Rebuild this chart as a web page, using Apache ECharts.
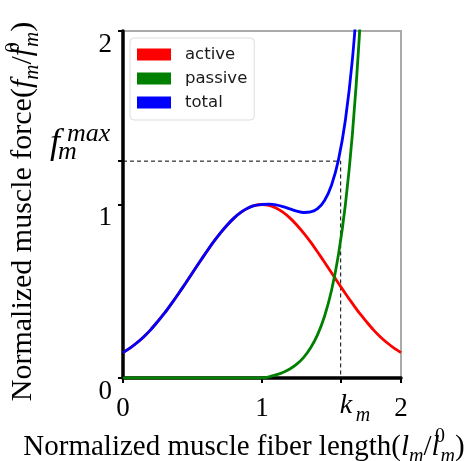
<!DOCTYPE html>
<html>
<head>
<meta charset="utf-8">
<script src="https://cdn.jsdelivr.net/npm/echarts@6/dist/echarts.min.js"></script>
<style>
html,body{margin:0;padding:0;background:#fff;}
#chart{width:470px;height:461px;}
</style>
</head>
<body>
<div id="chart"></div>
<script>
// ---- data ----
const fiberLength = [0,0.05,0.1,0.15,0.2,0.25,0.3,0.35,0.4,0.45,0.5,0.55,0.6,0.65,0.7,0.75,0.8,0.85,0.9,0.95,
  1,1.05,1.1,1.15,1.2,1.25,1.3,1.35,1.4,1.45,1.5,1.55,1.6,1.65,1.7,1.75,1.8,1.85,1.9,1.95,2];
const activeForce = [0.146,0.172,0.203,0.238,0.279,0.326,0.375,0.430,0.487,0.546,0.607,0.667,0.726,0.783,0.835,0.882,0.923,0.956,0.980,0.995,
  1.000,0.995,0.980,0.956,0.923,0.882,0.835,0.783,0.726,0.667,0.607,0.546,0.487,0.430,0.375,0.326,0.279,0.238,0.203,0.172,0.146];
const passiveLength = [0,0.5,1,1.05,1.1,1.15,1.2,1.25,1.3,1.35,1.4,1.45,1.5,1.55,1.6,1.65,1.7,1.75];
const passiveForce = [0,0,0,0.007,0.018,0.032,0.052,0.080,0.119,0.174,0.250,0.356,0.504,0.711,1.000,1.403,1.965,2.750];
const totalLength = [0,0.05,0.1,0.15,0.2,0.25,0.3,0.35,0.4,0.45,0.5,0.55,0.6,0.65,0.7,0.75,0.8,0.85,0.9,0.95,
  1,1.05,1.1,1.15,1.2,1.25,1.3,1.35,1.4,1.45,1.5,1.55,1.6,1.65,1.7];
const totalForce = [0.146,0.172,0.203,0.238,0.279,0.326,0.375,0.430,0.487,0.546,0.607,0.667,0.726,0.783,0.835,0.882,0.923,0.956,0.980,0.995,
  1.000,1.002,0.998,0.988,0.975,0.962,0.954,0.957,0.976,1.023,1.111,1.257,1.487,1.833,2.340];
const kmValue = 1.566;
const fmaxValue = 1.25;
const xTickLabels = [0, 1, 2];
const yTickLabels = [0, 1, 2];
const seriesNames = ['active', 'passive', 'total'];
const seriesColors = ['#ff0000', '#008000', '#0000ff'];

function pairs(xs, ys) { return xs.map((x, i) => [x, ys[i]]); }

const SERIF = '"Liberation Serif", "DejaVu Serif", serif';
function mathRich(size) {
  const s = Math.round(size * 0.69);
  return {
    n: {fontFamily: SERIF, fontSize: size, color: '#000', lineHeight: 40},
    i: {fontFamily: SERIF, fontStyle: 'italic', fontSize: size, color: '#000', lineHeight: 40},
    sub: {fontFamily: SERIF, fontStyle: 'italic', fontSize: s, color: '#000', lineHeight: 24, verticalAlign: 'bottom'},
    sup: {fontFamily: SERIF, fontSize: s, color: '#000', lineHeight: 32, verticalAlign: 'top', width: 1}
  };
}

const chart = echarts.init(document.getElementById('chart'), null, {renderer: 'canvas'});
const option = {
  animation: false,
  backgroundColor: '#fff',
  grid: {left: 123, right: 69, top: 31, bottom: 83, containLabel: false, outerBoundsMode: 'none',
         show: true, borderColor: '#aaaaaa', borderWidth: 2, backgroundColor: 'transparent'},
  legend: {
    data: seriesNames,
    orient: 'vertical',
    left: 130, top: 38,
    padding: [8, 7, 9, 7],
    itemWidth: 34, itemHeight: 12, itemGap: 7,
    icon: 'rect',
    backgroundColor: '#fff',
    borderColor: '#dddddd', borderWidth: 1, borderRadius: 4,
    textStyle: {fontFamily: '"DejaVu Sans", sans-serif', fontSize: 16.5, color: '#1a1a1a', padding: [0, 0, 0, 9]}
  },
  xAxis: {
    type: 'value', min: 0, max: 2, interval: 1,
    splitLine: {show: false},
    axisLine: {show: true, onZero: false, lineStyle: {color: '#000', width: 3.5}},
    axisTick: {show: true, length: 5, lineStyle: {color: '#000', width: 2}, customValues: [0, 1, kmValue, 2]},
    axisLabel: {customValues: xTickLabels, fontFamily: SERIF, fontSize: 27, color: '#000', margin: 17},
    name: '{n|Normalized muscle fiber length(}{i|l}{sub|m}{n|/}{i|l}{sup|0}{sub|m}{n|)}',
    nameLocation: 'middle', nameGap: 36,
    nameTextStyle: {rich: mathRich(29), padding: [0, 36, 0, 0]}
  },
  yAxis: {
    type: 'value', min: 0, max: 2, interval: 1,
    splitLine: {show: false},
    axisLine: {show: true, onZero: false, lineStyle: {color: '#000', width: 3.5}},
    axisTick: {show: true, length: 5, lineStyle: {color: '#000', width: 2}, customValues: [0, 1, fmaxValue, 2]},
    axisLabel: {customValues: yTickLabels, fontFamily: SERIF, fontSize: 27, color: '#000', margin: 11, verticalAlign: 'top'},
    name: '{n|Normalized muscle force(}{i|f}{sub|m}{n|/}{i|f}{sup|0}{sub|m}{n|)}',
    nameLocation: 'middle', nameGap: 80, nameRotate: 90,
    nameTextStyle: {rich: mathRich(30), padding: [0, 14, 0, 0]}
  },
  series: [
    {name: seriesNames[0], type: 'line', data: pairs(fiberLength, activeForce), smooth: 0.3, symbol: 'none', clip: true,
     color: seriesColors[0], lineStyle: {color: seriesColors[0], width: 2.8}, z: 3},
    {name: seriesNames[1], type: 'line', data: pairs(passiveLength, passiveForce), smooth: 0.3, symbol: 'none', clip: true,
     color: seriesColors[1], lineStyle: {color: seriesColors[1], width: 2.8}, z: 4},
    {name: seriesNames[2], type: 'line', data: pairs(totalLength, totalForce), smooth: 0.3, symbol: 'none', clip: true,
     color: seriesColors[2], lineStyle: {color: seriesColors[2], width: 2.8}, z: 5},
    {name: 'guide', type: 'line', data: [[0, fmaxValue], [kmValue, fmaxValue], [kmValue, 0]], symbol: 'none', silent: true,
     lineStyle: {color: '#000', width: 1, type: [4, 3]}, z: 2}
  ]
};
chart.setOption(option);

// annotation labels positioned through the chart's own scales
const pFmax = chart.convertToPixel({gridIndex: 0}, [0, fmaxValue]);
const pKm = chart.convertToPixel({gridIndex: 0}, [kmValue, 0]);
chart.setOption({
  graphic: [
    {type: 'text', left: pFmax[0] - 73, top: pFmax[1] - 40, silent: true,
     style: {text: '{f|f}{s|m}{p|max}', rich: {
       f: {fontFamily: SERIF, fontStyle: 'italic', fontSize: 36, lineHeight: 44, width: 8, fill: '#000'},
       s: {fontFamily: SERIF, fontStyle: 'italic', fontSize: 26, lineHeight: 20, verticalAlign: 'bottom', width: 9, fill: '#000'},
       p: {fontFamily: SERIF, fontStyle: 'italic', fontSize: 26, lineHeight: 26, verticalAlign: 'top', fill: '#000'}
     }}},
    {type: 'text', left: pKm[0] - 1, top: pKm[1] + 14, silent: true,
     style: {text: '{k|k}{m|m}', rich: {
       k: {fontFamily: SERIF, fontStyle: 'italic', fontSize: 28, lineHeight: 40, width: 16, fill: '#000'},
       m: {fontFamily: SERIF, fontStyle: 'italic', fontSize: 20, lineHeight: 24, verticalAlign: 'bottom', fill: '#000'}
     }}}
  ]
});
</script>
</body>
</html>
